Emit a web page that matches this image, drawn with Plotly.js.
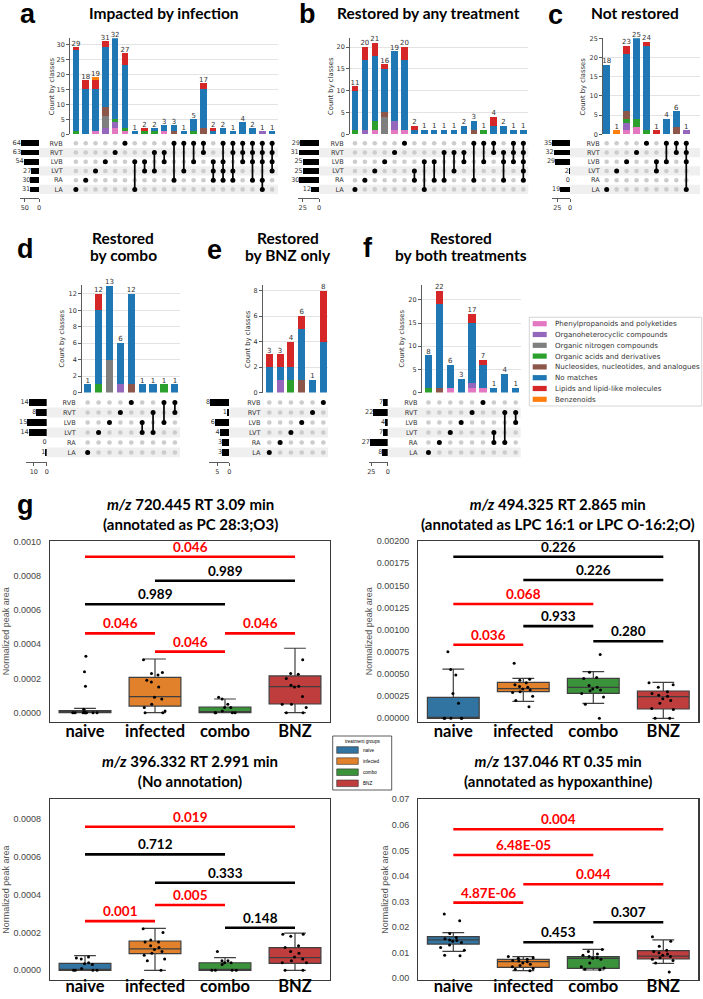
<!DOCTYPE html>
<html><head><meta charset="utf-8">
<script src="https://cdn.plot.ly/plotly-3.0.1.min.js"></script>
<style>html,body{margin:0;padding:0;background:#fff}#chart{width:703px;height:999px}</style>
</head><body><div id="chart"></div>
<script>
// ================= DATA =================
const setNames = ['RVB','RVT','LVB','LVT','RA','LA'];
const classNames = ['Phenylpropanoids and polyketides','Organoheterocyclic compounds','Organic nitrogen compounds',
  'Organic acids and derivatives','Nucleosides, nucleotides, and analogues','No matches',
  'Lipids and lipid-like molecules','Benzenoids'];
const classColors = ['#e377c2','#9467bd','#7f7f7f','#2ca02c','#8c564b','#1f77b4','#d62728','#ff7f0e'];

// --- a: Impacted by infection (rows of counts follow classNames order)
const aMembers = ['LA','RA','LVT','LVB','RVT','RVB','LVB+LA','LVB+LVT','RVT+LVT','RVT+LVB','RVB+RA','RVB+LVT',
  'RVB+LVB','RVB+RVT','LVB+LVT+RA','RVB+LVB+LVT+RA','RVB+RVT+LVT+RA','RVB+RVT+LVB','RVB+RVT+LVB+RA',
  'RVB+RVT+LVB+RA+LA','RVB+RVT+LVB+LVT'];
const aCounts = [
  [0,0,1,0,2,1,0,0,0,1,0,0,0,0,0,0,0,0,0,0,0],
  [0,0,0,2,2,0,0,0,0,0,0,0,0,0,0,0,0,0,0,1,0],
  [0,0,0,4,0,0,0,0,0,0,0,0,0,0,0,0,0,0,0,0,0],
  [1,0,0,0,1,1,0,1,1,0,0,0,1,0,0,0,0,0,0,0,0],
  [0,0,0,3,0,0,0,0,0,0,1,0,0,2,0,0,0,0,0,0,0],
  [27,15,14,20,27,21,1,0,1,2,2,1,4,13,1,2,1,4,2,0,1],
  [1,3,3,2,0,4,0,1,0,0,0,0,0,2,1,0,0,0,0,0,0],
  [0,0,1,0,0,0,0,0,0,0,0,0,0,0,0,0,0,0,0,0,0]];
const aTotals = [64,63,54,27,30,31];

// --- b: Restored by any treatment
const bMembers = ['LA','RA','LVT','LVB','RVT','RVB','LVT+RA','LVB+LA','LVB+RA','RVT+RA','RVT+LVT','RVT+LVB',
  'RVB+RA','RVB+LVB','RVB+RVT','RVT+LVB+RA','RVB+RVT+LVB','RVB+RVT+LVB+LVT+RA'];
const bCounts = [
  [0,0,1,0,1,1,0,0,0,0,0,0,0,0,0,0,0,0],
  [0,1,0,0,2,0,0,0,0,0,0,0,0,0,0,0,0,0],
  [0,0,0,4,0,0,0,0,0,0,0,0,0,0,0,0,0,0],
  [1,0,2,0,0,0,0,0,0,0,0,0,0,1,0,0,0,0],
  [0,0,0,1,0,0,0,0,0,0,0,0,1,0,0,0,0,0],
  [9,16,15,10,16,16,1,1,1,1,1,2,2,0,2,2,1,1],
  [1,3,3,1,0,3,1,0,0,0,0,0,0,0,2,0,0,0],
  [0,0,0,0,0,0,0,0,0,0,0,0,0,0,0,0,0,0]];
const bTotals = [29,31,25,25,30,12];

// --- c: Not restored
const cMembers = ['LA','LVT','LVB','RVT','RVB','LVB+LVT','RVB+LVB','RVB+RVT','RVB+RVT+LVB+LA'];
const cCounts = [
  [0,0,1,2,0,0,0,0,0],
  [0,0,2,0,0,0,0,0,1],
  [0,0,0,0,0,0,0,0,0],
  [0,0,1,2,1,0,0,0,0],
  [0,0,2,0,0,0,0,2,0],
  [18,0,15,21,22,0,4,4,0],
  [0,0,2,0,1,1,0,0,0],
  [0,1,0,0,0,0,0,0,0]];
const cTotals = [35,32,29,2,0,19];

// --- d: Restored by combo
const dMembers = ['LA','LVT','LVB','RVT','RVB','LVB+LVT','RVT+LVT','RVB+LVB','RVB+RVT'];
const dCounts = [
  [0,0,0,0,0,0,0,0,0],
  [0,0,0,1,0,0,0,0,0],
  [0,0,4,0,0,0,0,0,0],
  [0,1,0,0,0,0,0,1,0],
  [0,0,0,0,1,0,0,0,0],
  [1,9,9,5,11,1,1,0,1],
  [0,2,0,0,0,0,0,0,0],
  [0,0,0,0,0,0,0,0,0]];
const dTotals = [14,8,15,14,0,1];

// --- e: Restored by BNZ only
const eMembers = ['LA','RA','LVT','LVB','RVT','RVB'];
const eCounts = [
  [0,0,0,0,0,0],
  [0,1,0,0,0,0],
  [0,0,0,0,0,0],
  [0,0,1,0,0,0],
  [0,0,0,1,0,0],
  [2,1,1,4,1,4],
  [1,1,2,1,0,4],
  [0,0,0,0,0,0]];
const eTotals = [8,1,6,4,3,3];

// --- f: Restored by both treatments
const fMembers = ['LA','RA','LVT','LVB','RVT','RVB','LVT+RA','RVT+RA','RVT+LVB'];
const fCounts = [
  [0,0,1,0,1,1,0,0,0],
  [0,0,0,0,1,0,0,0,0],
  [0,0,0,0,0,0,0,0,0],
  [1,0,0,0,0,0,0,0,0],
  [0,1,0,0,0,0,0,0,0],
  [7,18,5,3,13,5,1,4,1],
  [0,3,0,0,2,1,0,0,0],
  [0,0,0,0,0,0,0,0,0]];
const fTotals = [7,22,4,7,27,8];

const upsetTitles = ['Impacted by infection','Restored by any treatment','Not restored',
  'Restored<br>by combo','Restored<br>by BNZ only','Restored<br>by both treatments'];

// --- g: box plots
const groups = ['naive','infected','combo','BNZ'];
const boxTitles = ['<i>m/z</i> 720.445 RT 3.09 min<br>(annotated as PC 28:3;O3)',
  '<i>m/z</i> 494.325 RT 2.865 min<br>(annotated as LPC 16:1 or LPC O-16:2;O)',
  '<i>m/z</i> 396.332 RT 2.991 min<br>(No annotation)',
  '<i>m/z</i> 137.046 RT 0.35 min<br>(annotated as hypoxanthine)'];

const m1Q1 = [0, 0.000039, 0, 0.0000509];
const m1Median = [0.000002, 0.0000936, 0.000001, 0.000152];
const m1Q3 = [0.000012, 0.000207, 0.0000333, 0.000215];
const m1Low = [0, 0, 0, 0];
const m1High = [0.0000257, 0.000314, 0.0000801, 0.000377];
const m1Naive = [0.00033,0.00024,0.000155,0.00002,0.000005,0,0,0,0,0,0,0,0];
const m1Infected = [0.00031,0.000235,0.00023,0.00022,0.00019,0.00018,0.00015,0.00009,0.00008,0.00005,0.00003,0.00001,0,0];
const m1Combo = [0.00009,0.00008,0.00005,0.00003,0.00003,0.00001,0,0,0,0];
const m1Bnz = [0.00031,0.00023,0.000225,0.0002,0.000155,0.00016,0.00015,0.000095,0.00005,0.00005,0.00003,0,0];
const m1Pairs = [[0,3],[1,3],[0,2],[0,1],[2,3],[1,2]];
const m1Levels = [0.000912,0.000772,0.000634,0.000464,0.000464,0.000357];
const m1P = ['0.046','0.989','0.989','0.046','0.046','0.046'];

const m2Q1 = [0, 0.0003, 0.000282, 0.000105];
const m2Median = [0.000002, 0.000334, 0.00035, 0.000244];
const m2Q3 = [0.000237, 0.000406, 0.000451, 0.000308];
const m2Low = [0, 0.000192, 0.000169, 0];
const m2High = [0.000556, 0.000451, 0.000526, 0.000406];
const m2Naive = [0.00075,0.00055,0.00049,0.00028,0.00017,0,0,0,0,0];
const m2Infected = [0.00062,0.00044,0.00043,0.0004,0.00038,0.00036,0.00035,0.00033,0.00032,0.0003,0.00029,0.00025,0.0002,0.00013];
const m2Combo = [0.00072,0.00052,0.00046,0.00045,0.00037,0.00035,0.00033,0.00032,0.00031,0.00028,0.00024,0.00016,0];
const m2Bnz = [0.0004,0.00038,0.00035,0.0003,0.00028,0.00026,0.00025,0.00022,0.0002,0.00017,0.00011,0.0001,0,0];
const m2Pairs = [[0,3],[1,3],[0,2],[1,2],[0,1],[2,3]];
const m2Levels = [0.001823,0.00156,0.00129,0.00104,0.00083,0.00087];
const m2P = ['0.226','0.226','0.068','0.933','0.036','0.280'];

const m3Q1 = [0, 0.0000881, 0, 0.000037];
const m3Median = [0.000003, 0.000113, 0.000005, 0.0000667];
const m3Q3 = [0.000037, 0.000155, 0.00004, 0.00012];
const m3Low = [0, 0, 0, 0];
const m3High = [0.0000773, 0.000222, 0.0000667, 0.000196];
const m3Naive = [0.00007,0.000065,0.00006,0.00004,0.000035,0.00003,0.00001,0,0,0,0];
const m3Infected = [0.00022,0.0002,0.00016,0.00015,0.00015,0.00013,0.00012,0.00011,0.0001,0.00009,0.00008,0.00006,0.00005,0];
const m3Combo = [0.0001,0.00005,0.00005,0.00004,0.00004,0.00003,0,0,0,0];
const m3Bnz = [0.00019,0.00019,0.00018,0.00013,0.00012,0.0001,0.00009,0.00007,0.00006,0.00005,0.00004,0.00004,0,0];
const m3Pairs = [[0,3],[0,2],[1,3],[1,2],[0,1],[2,3]];
const m3Levels = [0.000759,0.000613,0.000463,0.000345,0.00026,0.000225];
const m3P = ['0.019','0.712','0.333','0.005','0.001','0.148'];

const m4Q1 = [0.0134, 0.0043, 0.0039, 0.00755];
const m4Median = [0.015, 0.0065, 0.0078, 0.0087];
const m4Q3 = [0.01627, 0.00743, 0.00845, 0.0108];
const m4Low = [0.01055, 0.003, 0.00325, 0.00587];
const m4High = [0.01784, 0.00845, 0.01134, 0.015];
const m4Naive = [0.0251,0.0225,0.0175,0.016,0.0155,0.015,0.0148,0.0145,0.014,0.013,0.012,0.011,0.009,0.0088];
const m4Infected = [0.0085,0.008,0.0078,0.0075,0.007,0.0068,0.0065,0.006,0.0055,0.005,0.0045,0.0038,0.0035,0.003];
const m4Combo = [0.0113,0.0105,0.0095,0.009,0.0085,0.008,0.0078,0.0075,0.006,0.0045,0.004,0.0035,0.0033];
const m4Bnz = [0.0163,0.0145,0.0125,0.011,0.0105,0.01,0.0095,0.009,0.0085,0.008,0.0075,0.007,0.006,0.0025];
const m4Pairs = [[0,3],[0,2],[1,3],[0,1],[2,3],[1,2]];
const m4Levels = [0.0583,0.0482,0.0368,0.0296,0.0219,0.0141];
const m4P = ['0.004','6.48E-05','0.044','4.87E-06','0.307','0.453'];

const boxColors = ['#3274a1','#e1812c','#3a923a','#c03d3e'];

// ================= BUILD =================
const W = 703, H = 999;
const dx = (a, b) => [a / W, b / W];
const dy = (t, b) => [1 - b / H, 1 - t / H];
const traces = [], shapes = [], annotations = [];
const layout = {
  width: W, height: H, margin: {l: 0, r: 0, t: 0, b: 0},
  paper_bgcolor: '#ffffff', plot_bgcolor: 'rgba(0,0,0,0)',
  showlegend: false, barmode: 'stack', boxmode: 'overlay',
  font: {family: 'DejaVu Sans', color: '#333'}, hovermode: false
};
let nAx = 0;
function newAxes(xc, yc) {
  nAx++;
  const s = nAx === 1 ? '' : String(nAx);
  layout['xaxis' + s] = Object.assign({anchor: 'y' + s, fixedrange: true}, xc);
  layout['yaxis' + s] = Object.assign({anchor: 'x' + s, fixedrange: true}, yc);
  return {x: 'x' + s, y: 'y' + s};
}
function paperText(text, x, y, font, extra) {
  annotations.push(Object.assign({text: text, xref: 'paper', yref: 'paper', x: x / W, y: 1 - y / H,
    showarrow: false, xanchor: 'center', yanchor: 'middle', font: font}, extra || {}));
}

function upset(members, counts, totals, g) {
  const n = members.length;
  const idx = Array.from({length: n}, (_, i) => i);
  const rows = setNames.map((_, r) => r);
  // intersection bars
  const bar = newAxes({domain: dx(g.xL, g.xR), range: [g.x0, g.x1], visible: false},
    {domain: dy(g.barTop, g.barBot), range: [0, g.yMax], dtick: g.dtick, showline: true, linecolor: '#333',
     linewidth: 0.8, ticks: 'outside', ticklen: 3, tickwidth: 0.8, tickcolor: '#333', showgrid: true,
     gridcolor: '#dcdcdc', gridwidth: 0.8, zeroline: false, tickfont: {size: 6.5, color: '#333'}});
  counts.forEach((vals, k) => traces.push({type: 'bar', x: idx, y: vals, width: 0.66, name: classNames[k],
    marker: {color: classColors[k], line: {width: 0}}, xaxis: bar.x, yaxis: bar.y}));
  const sums = idx.map(i => counts.reduce((s, v) => s + v[i], 0));
  traces.push({type: 'scatter', mode: 'text', x: idx, y: sums, text: sums.map(String), textposition: 'top center',
    textfont: {size: 7, color: '#333'}, cliponaxis: false, xaxis: bar.x, yaxis: bar.y});
  paperText('Count by classes', g.ytX, (g.barTop + g.barBot) / 2, {size: 6.8, color: '#333'}, {textangle: -90});
  // matrix
  const mat = newAxes({domain: dx(g.xL, g.xR), range: [g.x0, g.x1], visible: false},
    {domain: dy(g.matTop, g.matBot), range: [5.5, -0.5], tickvals: rows, ticktext: setNames, ticks: 'outside',
     ticklen: g.gap, tickcolor: 'rgba(0,0,0,0)', showgrid: false, zeroline: false, showline: false,
     tickfont: {size: 6.5, color: '#333'}});
  const gx = [], gy = [], bx = [], by = [], lx = [], ly = [];
  members.forEach((m, i) => {
    const on = m.split('+').map(s => setNames.indexOf(s));
    rows.forEach(r => { if (on.includes(r)) { bx.push(i); by.push(r); } else { gx.push(i); gy.push(r); } });
    if (on.length > 1) { lx.push(i, i, null); ly.push(Math.min(...on), Math.max(...on), null); }
  });
  traces.push({type: 'scatter', mode: 'markers', x: gx, y: gy, marker: {size: 4.6, color: '#cccccc'},
    cliponaxis: false, xaxis: mat.x, yaxis: mat.y});
  traces.push({type: 'scatter', mode: 'lines', x: lx, y: ly, line: {color: '#000', width: 1.7},
    cliponaxis: false, xaxis: mat.x, yaxis: mat.y});
  traces.push({type: 'scatter', mode: 'markers', x: bx, y: by, marker: {size: 5, color: '#000'},
    cliponaxis: false, xaxis: mat.x, yaxis: mat.y});
  [1, 3, 5].forEach(r => shapes.push({type: 'rect', xref: 'paper', yref: mat.y, x0: g.tR / W, x1: g.xR / W,
    y0: r - 0.5, y1: r + 0.5, fillcolor: '#efefef', line: {width: 0}, layer: 'below'}));
  // set totals
  const rowH = (g.matBot - g.matTop) / 6;
  const tot = newAxes({domain: dx(g.tL, g.tR), range: [g.tMax, 0], tickvals: g.tTicks, ticks: 'outside',
     ticklen: 3, tickwidth: 0.8, tickcolor: '#333', showline: true, linecolor: '#333', linewidth: 0.8,
     showgrid: false, zeroline: false, tickfont: {size: 6.5, color: '#333'}},
    {domain: dy(g.matTop, g.totBot), range: [(g.totBot - g.matTop) / rowH - 0.5, -0.5], visible: false});
  traces.push({type: 'bar', orientation: 'h', x: totals, y: rows, width: 0.62, marker: {color: '#000'},
    xaxis: tot.x, yaxis: tot.y});
  traces.push({type: 'scatter', mode: 'text', x: totals, y: rows, text: totals.map(String),
    textposition: 'middle left', textfont: {size: 6.5, color: '#333'}, cliponaxis: false,
    xaxis: tot.x, yaxis: tot.y});
}

const geomTop = {barTop: 38.3, barBot: 134.3, matTop: 138.7, matBot: 194, totBot: 198};
const geomMid = {barTop: 285, barBot: 392.5, matTop: 397.5, matBot: 457.5, totBot: 462};
upset(aMembers, aCounts, aTotals, Object.assign({xL: 70, xR: 278, x0: -0.6, x1: 20.6, yMax: 32, dtick: 5,
  tL: 20, tR: 39, tMax: 67, tTicks: [50, 0], gap: 5, ytX: 52}, geomTop));
upset(bMembers, bCounts, bTotals, Object.assign({xL: 350, xR: 528.3, x0: -0.5, x1: 17.5, yMax: 22, dtick: 5,
  tL: 298.1, tR: 319, tMax: 32, tTicks: [25, 0], gap: 4, ytX: 331.7}, geomTop));
upset(cMembers, cCounts, cTotals, Object.assign({xL: 603, xR: 700, x0: -0.37, x1: 9.38, yMax: 25, dtick: 5,
  tL: 551.7, tR: 570, tMax: 36, tTicks: [25, 0], gap: 1, ytX: 583.3}, geomTop));
upset(dMembers, dCounts, dTotals, Object.assign({xL: 82, xR: 180, x0: -0.52, x1: 8.47, yMax: 13.07, dtick: 2,
  tL: 26.1, tR: 46.7, tMax: 16, tTicks: [10, 0], gap: 4, ytX: 61.7}, geomMid));
upset(eMembers, eCounts, eTotals, Object.assign({xL: 262.7, xR: 328, x0: -0.61, x1: 5.43, yMax: 8.45, dtick: 2,
  tL: 208.8, tR: 229.3, tMax: 8.5, tTicks: [5, 0], gap: 0, ytX: 247.3}, geomMid));
upset(fMembers, fCounts, fTotals, Object.assign({xL: 421.7, xR: 520.7, x0: -0.62, x1: 8.46, yMax: 23.2, dtick: 5,
  tL: 368.7, tR: 387.7, tMax: 29, tTicks: [25, 0], gap: 2, ytX: 401.7}, geomMid));

// panel letters and titles
const letterFont = {family: 'Liberation Sans', size: 27, color: '#000', weight: 'bold'};
[['a', 28, 14], ['b', 307.5, 14], ['c', 555, 15], ['d', 25, 249], ['e', 214.5, 250], ['f', 367.5, 248], ['g', 25, 505]]
  .forEach(l => paperText(l[0], l[1], l[2], letterFont));
const titleFont = {family: 'Lato', size: 15.5, color: '#000', weight: 'bold'};
paperText(upsetTitles[0], 163.5, 13, titleFont);
paperText(upsetTitles[1], 428, 13, titleFont);
paperText(upsetTitles[2], 634.5, 13, titleFont);
[[3, 123], [4, 288.3], [5, 461]].forEach(t => {
  const parts = upsetTitles[t[0]].split('<br>');
  paperText(parts[0], t[1], 237.5, titleFont);
  paperText(parts[1], t[1], 255.5, titleFont);
});

// class legend (drawn from classNames / classColors)
shapes.push({type: 'rect', xref: 'paper', yref: 'paper', x0: 529.3 / W, x1: 701.7 / W, y0: 1 - 406 / H,
  y1: 1 - 317.3 / H, fillcolor: '#fff', line: {color: '#cccccc', width: 0.8}});
classNames.forEach((cn, k) => {
  const yc = 323.7 + 10.8 * k;
  shapes.push({type: 'rect', xref: 'paper', yref: 'paper', x0: 532.7 / W, x1: 546.7 / W,
    y0: 1 - (yc + 2.6) / H, y1: 1 - (yc - 2.6) / H, fillcolor: classColors[k], line: {width: 0}});
  paperText(cn, 552.7, yc, {size: 7.1, color: '#333'}, {xanchor: 'left'});
});

// box plots
function boxPanel(q1, med, q3, lo, hi, pts, pairs, levels, pv, title, g) {
  const ax = newAxes({domain: dx(g.x0, g.x1), range: [-0.5, 3.5], tickvals: [0, 1, 2, 3], ticktext: groups,
     showline: true, mirror: true, linecolor: '#3a3a3a', linewidth: 1.2, ticks: '', showgrid: false, zeroline: false,
     ticklabelstandoff: g.lblOff, tickfont: {family: 'Lato', size: 16.5, color: '#000', weight: 'bold'}},
    {domain: dy(g.y0, g.y1), range: g.yr, dtick: g.dtick, tick0: 0, tickformat: g.fmt, showline: true, mirror: true,
     linecolor: '#3a3a3a', linewidth: 1.2, ticks: 'outside', ticklen: 6, tickcolor: 'rgba(0,0,0,0)',
     showgrid: false, zeroline: false, tickfont: {family: 'Liberation Sans', size: 9, color: '#444'}});
  groups.forEach((gname, i) => {
    traces.push({type: 'box', name: gname, x: [i], q1: [q1[i]], median: [med[i]], q3: [q3[i]],
      lowerfence: [lo[i]], upperfence: [hi[i]], width: 0.74, whiskerwidth: 0.42, boxpoints: false,
      fillcolor: boxColors[i], line: {color: '#3f3f3f', width: 1.2}, xaxis: ax.x, yaxis: ax.y});
  });
  groups.forEach((gname, i) => {
    traces.push({type: 'box', name: gname, x: pts[i].map(() => i), y: pts[i], width: 0.74, boxpoints: 'all',
      jitter: 0.6, pointpos: 0, fillcolor: 'rgba(0,0,0,0)', line: {width: 0, color: 'rgba(0,0,0,0)'},
      marker: {color: '#000', size: 3, line: {width: 0}}, xaxis: ax.x, yaxis: ax.y});
  });
  pairs.forEach((p, k) => {
    const col = parseFloat(pv[k]) < 0.1 ? '#ff0000' : '#000000';
    shapes.push({type: 'line', xref: ax.x, yref: ax.y, x0: p[0], x1: p[1], y0: levels[k], y1: levels[k],
      line: {color: col, width: 2.6}});
    annotations.push({text: pv[k], xref: ax.x, yref: ax.y, x: (p[0] + p[1]) / 2, y: levels[k], yanchor: 'bottom',
      showarrow: false, font: {family: 'Lato', size: 13.5, color: col, weight: 'bold'}});
  });
  paperText(title, (g.x0 + g.x1) / 2, g.titleY, {family: 'Lato', size: 15, color: '#000', weight: 'bold'});
  paperText('Normalized peak area', g.ytX, (g.y0 + g.y1) / 2, {family: 'Liberation Sans', size: 9, color: '#555'},
    {textangle: -90});
}
boxPanel(m1Q1, m1Median, m1Q3, m1Low, m1High, [m1Naive, m1Infected, m1Combo, m1Bnz], m1Pairs, m1Levels, m1P,
  boxTitles[0], {x0: 50, x1: 330, y0: 540.7, y1: 721.7, yr: [-0.0000526, 0.001006], dtick: 0.0002, fmt: '.4f',
  titleY: 514, ytX: 6, lblOff: -6});
boxPanel(m2Q1, m2Median, m2Q3, m2Low, m2High, [m2Naive, m2Infected, m2Combo, m2Bnz], m2Pairs, m2Levels, m2P,
  boxTitles[1], {x0: 418.3, x1: 698.3, y0: 540.7, y1: 721.7, yr: [-0.0000383, 0.002004], dtick: 0.00025, fmt: '.5f',
  titleY: 514, ytX: 369, lblOff: -6});
boxPanel(m3Q1, m3Median, m3Q3, m3Low, m3High, [m3Naive, m3Infected, m3Combo, m3Bnz], m3Pairs, m3Levels, m3P,
  boxTitles[2], {x0: 50, x1: 330, y0: 799.3, y1: 980, yr: [-0.0000513, 0.000904], dtick: 0.0002, fmt: '.4f',
  titleY: 771, ytX: 6, lblOff: -9});
boxPanel(m4Q1, m4Median, m4Q3, m4Low, m4High, [m4Naive, m4Infected, m4Combo, m4Bnz], m4Pairs, m4Levels, m4P,
  boxTitles[3], {x0: 418.3, x1: 698.3, y0: 799.3, y1: 980, yr: [-0.00066, 0.07], dtick: 0.01, fmt: '.2f',
  titleY: 771, ytX: 385, lblOff: -9});

// treatment-group legend
shapes.push({type: 'rect', xref: 'paper', yref: 'paper', x0: 332.7 / W, x1: 391.7 / W, y0: 1 - 790 / H,
  y1: 1 - 736 / H, fillcolor: '#fff', line: {color: '#333', width: 0.8}});
paperText('treatment groups', 362, 741.5, {family: 'Liberation Sans', size: 4.6, color: '#000'});
groups.forEach((gname, i) => {
  const yc = 750 + 11.1 * i;
  shapes.push({type: 'rect', xref: 'paper', yref: 'paper', x0: 336.7 / W, x1: 358.3 / W,
    y0: 1 - (yc + 3.3) / H, y1: 1 - (yc - 3.3) / H, fillcolor: boxColors[i], line: {color: '#333', width: 0.6}});
  paperText(gname, 360.5, yc, {family: 'Liberation Sans', size: 4.6, color: '#000'}, {xanchor: 'left'});
});

layout.shapes = shapes;
layout.annotations = annotations;
Plotly.newPlot('chart', traces, layout, {displayModeBar: false, staticPlot: true});
</script>
</body></html>
